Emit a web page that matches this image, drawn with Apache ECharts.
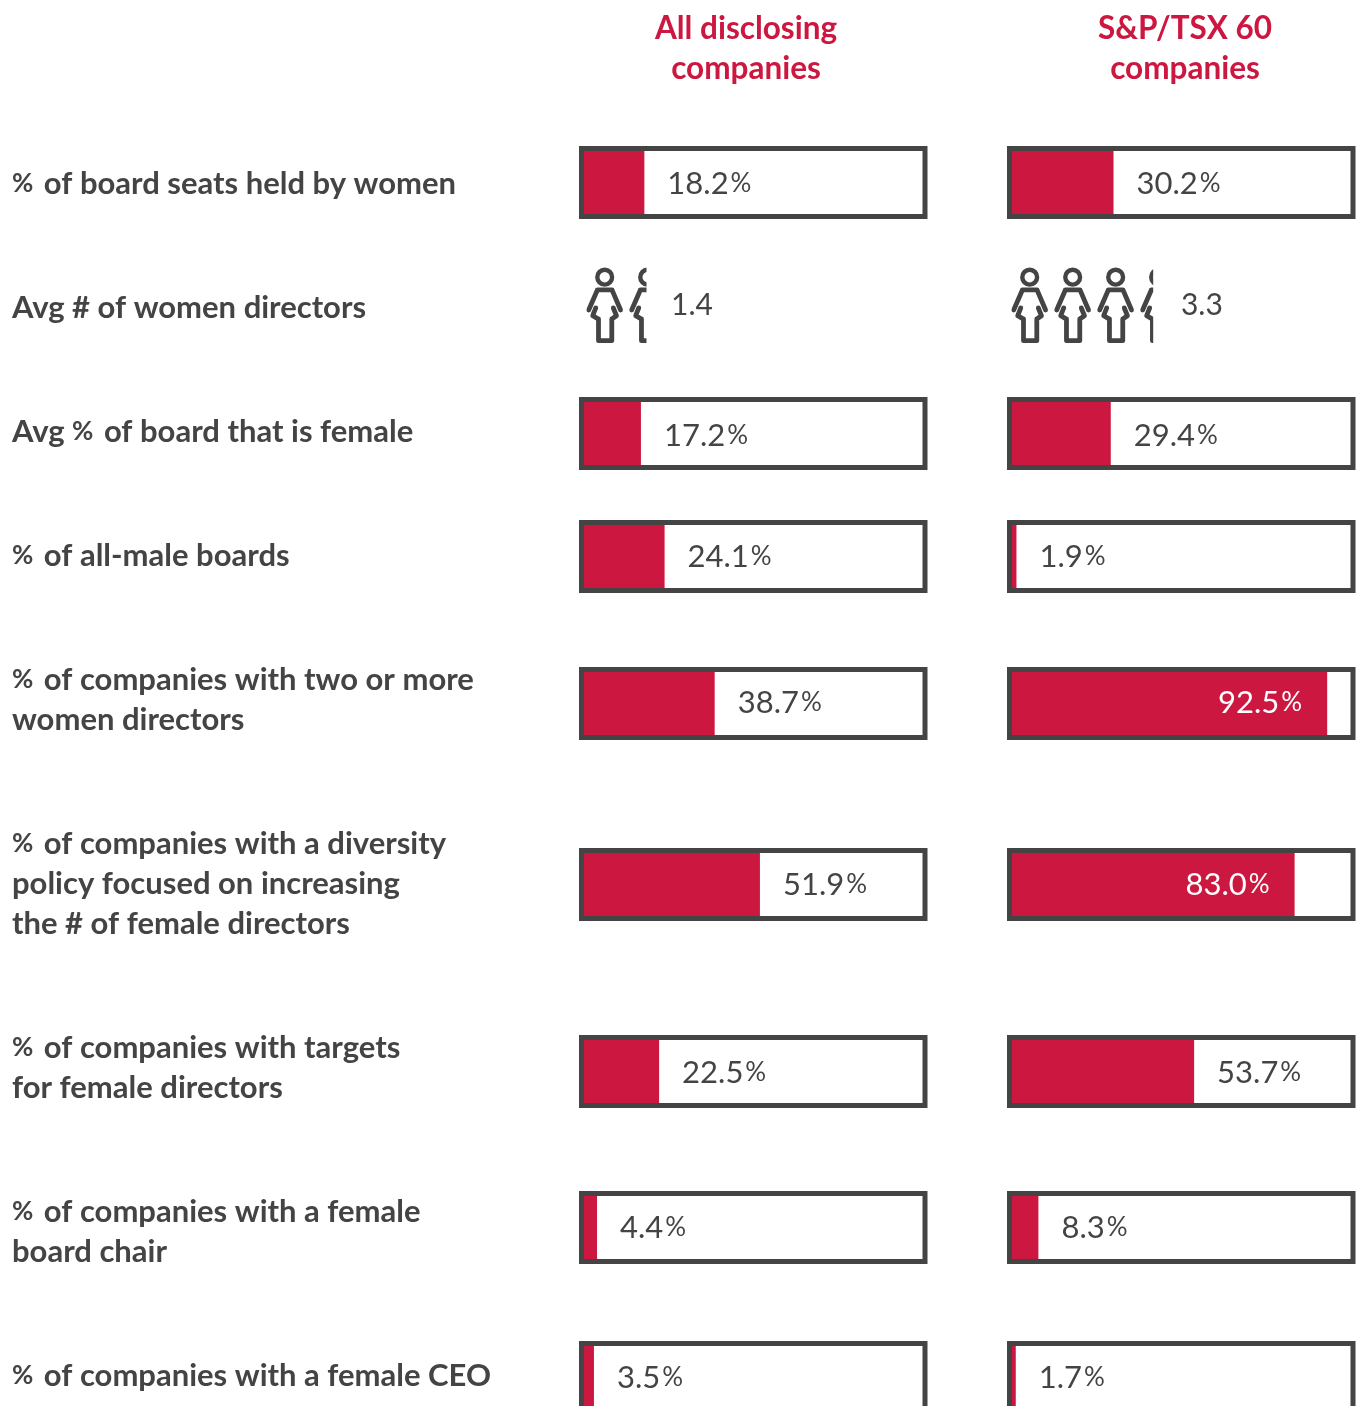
<!DOCTYPE html>
<html>
<head>
<meta charset="utf-8">
<title>Women on boards</title>
<script src="https://cdn.jsdelivr.net/npm/echarts@6/dist/echarts.min.js"></script>
<style>
  html, body { margin: 0; padding: 0; background: #ffffff; }
  #chart { width: 1356px; height: 1406px; overflow: hidden; }
</style>
</head>
<body>
<div id="chart"></div>
<script>
// data
const columnTitles = ['All disclosing\ncompanies', 'S&P/TSX 60\ncompanies']
const rowLabels = [
  '% of board seats held by women',
  'Avg # of women directors',
  'Avg % of board that is female',
  '% of all-male boards',
  '% of companies with two or more\nwomen directors',
  '% of companies with a diversity\npolicy focused on increasing\nthe # of female directors',
  '% of companies with targets\nfor female directors',
  '% of companies with a female\nboard chair',
  '% of companies with a female CEO'
]
const allDisclosing = [18.2, 1.4, 17.2, 24.1, 38.7, 51.9, 22.5, 4.4, 3.5]
const tsx60 = [30.2, 3.3, 29.4, 1.9, 92.5, 83.0, 53.7, 8.3, 1.7]
const countRow = 1 // this row is a number of people, drawn with icons

// layout
const RED = '#cc1840'
const DARK = '#444444'
const FONT = 'Lato'
const rowTops = [146, 267, 397, 520, 667, 848, 1035, 1191, 1341]
const labelCenters = [184, 308, 432, 556, 700, 884, 1068, 1232, 1376]
const valueNudges = [1, 0, 2, 0, -1, 0, 1, 0, 2]
const columnLefts = [584, 1012]
const iconLefts = [586.3, 1011.3]
const countLabelDistances = [5, 4]
const titleCenters = [746, 1185]
const INNER_WIDTH = 338.5
const FRAME_HEIGHT = 73
const BORDER = 5

// woman icon: head ring plus limbs turned into filled quads, so the line weight stays put
const ICON_LINE = 4.8
const ring = (cx, cy, r, sweep) => `M${cx},${cy - r}A${r},${r} 0 1 ${sweep} ${cx},${cy + r}A${r},${r} 0 1 ${sweep} ${cx},${cy - r}Z`
const thickLine = (points) => {
  const half = ICON_LINE / 2
  let d = ''
  points.forEach((p, i) => {
    d += ring(p[0], p[1], half, 0)
    if (i === 0) return
    const q = points[i - 1]
    const len = Math.hypot(p[0] - q[0], p[1] - q[1])
    const nx = -(p[1] - q[1]) / len * half
    const ny = (p[0] - q[0]) / len * half
    d += `M${q[0] + nx},${q[1] + ny}L${p[0] + nx},${p[1] + ny}L${p[0] - nx},${p[1] - ny}L${q[0] - nx},${q[1] - ny}Z`
  })
  return d
}
const womanIcon = 'path://' +
  ring(18.4, 9.6, 9.6, 0) + ring(18.4, 9.6, 5.2, 1) +
  thickLine([[2.4, 42.2], [11.2, 22.2], [25.7, 22.2], [34.3, 42.2]]) +
  thickLine([[9.5, 40.2], [6.4, 47.9], [12.2, 51.2], [12.2, 72.7], [25.5, 72.7], [25.5, 51.2], [30.2, 47.9], [27, 40.2]])

const leftLabel = (text) => text.split('\n').map(line => {
  return line.split('%').map(part => part ? `{b|${part}}` : '').join('{p|%}')
}).join('\n')

const valueLabel = (value, color, position, distance, nudge) => ({
  show: true,
  position,
  distance,
  offset: [0, nudge],
  formatter: `{v|${value.toFixed(1)}}{p|%}`,
  rich: {
    v: { fontFamily: FONT, fontSize: 31, color },
    p: { fontFamily: FONT, fontSize: 26, color, padding: [0, 0, 0, 2] }
  }
})

const grids = []
const xAxes = []
const yAxes = []
const series = []
const graphics = []

const addGrid = (left, top, width, height, min, max, name) => {
  grids.push({ left, top, width, height })
  const index = grids.length - 1
  xAxes.push({ type: 'value', gridIndex: index, min, max, show: false })
  yAxes.push({ type: 'category', gridIndex: index, data: [name], show: false })
  return index
}

;[allDisclosing, tsx60].forEach((values, col) => {
  values.forEach((value, row) => {
    if (row === countRow) {
      // 43px per person, so 8 units across 344px
      const index = addGrid(iconLefts[col], 267.5, 344, 75.6, 0, 8, rowLabels[row])
      series.push({
        type: 'pictorialBar',
        xAxisIndex: index,
        yAxisIndex: index,
        symbol: womanIcon,
        symbolSize: [36.7, 75.6],
        symbolRepeat: true,
        symbolMargin: 3.15,
        symbolClip: true,
        symbolBoundingData: 7.85,
        itemStyle: { color: DARK },
        label: {
          show: true,
          position: 'right',
          distance: countLabelDistances[col],
          offset: [0, 0],
          formatter: value.toFixed(1),
          fontFamily: FONT,
          fontSize: 30,
          color: DARK
        },
        data: [value]
      })
      return
    }
    // the drawn bars start a touch past zero: fits the picture's bar ends
    const index = addGrid(columnLefts[col], rowTops[row] + BORDER, INNER_WIDTH, FRAME_HEIGHT - BORDER * 2, 0.6, 99.3, rowLabels[row])
    const inside = value > 70
    series.push({
      type: 'bar',
      xAxisIndex: index,
      yAxisIndex: index,
      barWidth: '100%',
      itemStyle: { color: RED },
      label: inside
        ? valueLabel(value, '#ffffff', 'insideRight', 25, valueNudges[row])
        : valueLabel(value, DARK, 'right', 23, valueNudges[row]),
      data: [value]
    })
    // frame round the bar
    graphics.push({
      type: 'rect',
      z: 10,
      silent: true,
      shape: {
        x: columnLefts[col] - BORDER / 2,
        y: rowTops[row] + BORDER / 2,
        width: INNER_WIDTH + BORDER,
        height: FRAME_HEIGHT - BORDER
      },
      style: { fill: 'none', stroke: DARK, lineWidth: BORDER }
    })
  })
})

rowLabels.forEach((text, row) => {
  graphics.push({
    type: 'text',
    x: 12,
    y: labelCenters[row],
    style: {
      text: leftLabel(text),
      verticalAlign: 'middle',
      rich: {
        b: { fontFamily: FONT, fontWeight: 'bold', fontSize: 31, lineHeight: 40, fill: DARK },
        p: { fontFamily: FONT, fontWeight: 'bold', fontSize: 26, lineHeight: 40, fill: DARK, padding: [0, 3, 0, 0] }
      }
    }
  })
})

columnTitles.forEach((text, col) => {
  graphics.push({
    type: 'text',
    x: titleCenters[col],
    y: 49,
    style: {
      text,
      align: 'center',
      verticalAlign: 'middle',
      fontFamily: FONT,
      fontWeight: 'bold',
      fontSize: 31.5,
      lineHeight: 40,
      fill: RED
    }
  })
})

const myChart = echarts.init(document.getElementById('chart'))
myChart.setOption({
  animation: false,
  grid: grids,
  xAxis: xAxes,
  yAxis: yAxes,
  series,
  graphic: { elements: graphics }
})
</script>
</body>
</html>
